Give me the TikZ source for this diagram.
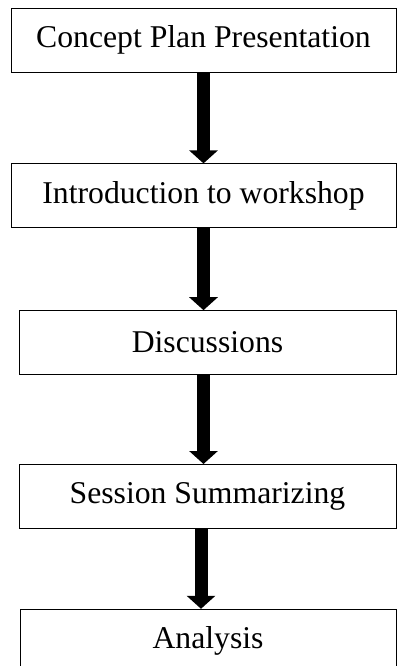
\documentclass[tikz,border=0pt]{standalone}
\usepackage{fontspec}
\setmainfont{Liberation Serif}
\usepackage{tikz}
\usetikzlibrary{arrows.meta,positioning}

\begin{document}
\begin{tikzpicture}[
  box/.style   = {rectangle, draw=black, line width=0.8pt,
                  minimum width=#1, minimum height=64pt, inner sep=0pt,
                  font=\fontsize{31.7pt}{38pt}\selectfont},
  box/.default = 385pt,
  arrow/.style = {-{Triangle[width=28pt,length=13pt]}, line width=13pt, black}
]

\useasboundingbox (0,0) rectangle (397pt,-666pt);

%% --- Stages, top to bottom -------------------------------------
\node[box] (concept) at (203.5pt,-40pt) {Concept Plan Presentation};

\node[box, below=91pt of concept] (intro) {Introduction to workshop};

\node[box=377pt, below=82pt of intro, xshift=4pt] (discuss) {Discussions};

\node[box=377pt, below=89pt of discuss] (summary) {Session Summarizing};

\node[box=376pt, below=80pt of summary, xshift=0.5pt] (analysis) {Analysis};

%% --- Arrows -----------------------------------------------------
\draw[arrow] (concept.south) -- (intro.north);
\draw[arrow] (intro.south)   -- (intro.south |- discuss.north);
\draw[arrow] (intro.south |- discuss.south) -- (intro.south |- summary.north);
\draw[arrow] ([xshift=-2.5pt]intro.south |- summary.south)
          -- ([xshift=-2.5pt]intro.south |- analysis.north);

\end{tikzpicture}
\end{document}
